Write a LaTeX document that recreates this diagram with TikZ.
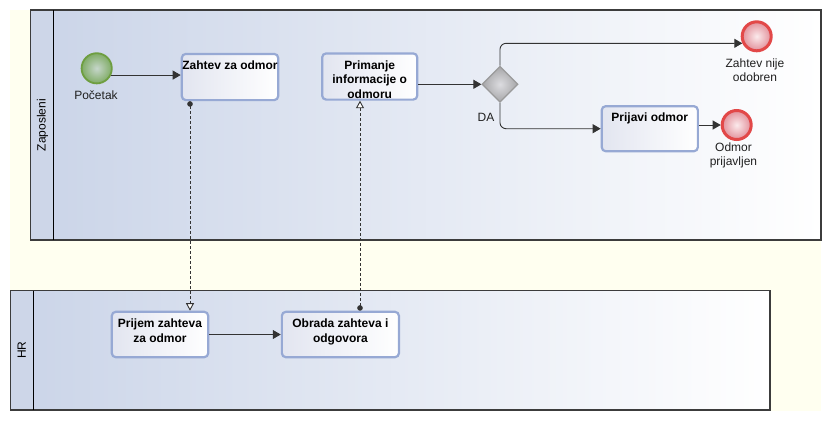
\documentclass[tikz,border=0pt]{standalone}
\usepackage{fontspec}
\setmainfont{Liberation Sans}
\usetikzlibrary{arrows.meta,shapes.geometric,calc}
\definecolor{ivory}{HTML}{FFFFF0}
\definecolor{poolline}{HTML}{3C3C3C}
\definecolor{poolL}{HTML}{CAD4E8}
\definecolor{bandcol}{HTML}{CDD6E8}
\definecolor{taskline}{HTML}{97A9D4}
\definecolor{taskL}{HTML}{E2E5F0}
\definecolor{flowcol}{HTML}{333333}
\definecolor{startline}{HTML}{6E9E40}
\definecolor{startin}{HTML}{C6D6CB}
\definecolor{startout}{HTML}{80AC66}
\definecolor{endline}{HTML}{E24848}
\definecolor{endin}{HTML}{FBEAEC}
\definecolor{endout}{HTML}{E2909A}
\definecolor{gwline}{HTML}{9A9A9A}
\definecolor{gwin}{HTML}{DCDCE0}
\definecolor{gwout}{HTML}{A6A6A8}
\definecolor{labtext}{HTML}{202020}
\begin{document}
\begin{tikzpicture}[x=1pt,y=-1pt,
  font=\fontsize{12}{14.5}\selectfont,
  pool/.style={draw=poolline, line width=1.2pt, left color=poolL, right color=white},
  band/.style={draw=poolline, line width=1.2pt, fill=bandcol},
  sep/.style={draw=black, line width=0.9pt},
  task/.style={rectangle, rounded corners=4pt, draw=taskline, line width=2.2pt,
    left color=taskL, right color=white, inner sep=0pt},
  tasktext/.style={anchor=north, yshift=-8pt, font=\fontsize{12}{14.5}\selectfont\bfseries,
    align=center, inner sep=0pt, text=black},
  startev/.style={circle, draw=startline, line width=1.8pt, inner color=startin,
    outer color=startout, minimum size=30.2pt, inner sep=0pt},
  endev/.style={circle, draw=endline, line width=3pt, inner color=endin,
    outer color=endout, minimum size=29pt, inner sep=0pt},
  gw/.style={diamond, draw=gwline, line width=1.2pt, inner color=gwin,
    outer color=gwout, minimum size=36pt, inner sep=0pt},
  evtext/.style={anchor=north, align=center, inner sep=0pt, text=labtext},
  seq/.style={draw=flowcol, line width=0.9pt, -{Triangle[length=8pt,width=9pt]}},
  msg/.style={draw=flowcol, line width=0.9pt, dash pattern=on 3pt off 2pt,
    {Circle[length=5.5pt,width=5.5pt]}-{Triangle[open,length=7.5pt,width=8pt,fill=white]}},
  lanetext/.style={rotate=90, inner sep=0pt, text=black}
]
\useasboundingbox (0,0) rectangle (831,421);
\fill[white] (0,0) rectangle (831,421);
\fill[ivory] (10,10) rectangle (821,411);

% pools
\draw[pool] (30.7,10) rectangle (821,240);
\fill[bandcol] (30.7,10) rectangle (53.3,240);
\draw[poolline, line width=1.2pt] (30.7,10) rectangle (821,240);
\draw[sep] (53.3,10) -- (53.3,240);
\node[lanetext] (lane1) at (42.5,125) {Zaposleni};

\draw[pool] (10.3,290.7) rectangle (770,410);
\fill[bandcol] (10.3,290.7) rectangle (33,410);
\draw[poolline, line width=1.2pt] (10.3,290.7) rectangle (770,410);
\draw[sep] (33,290.7) -- (33,410);
\node[lanetext] (lane2) at (21.8,350.3) {HR};

% nodes
\node[startev] (s) at (96.7,68.3) {};
\node[evtext] (slab) at (96,90.7) {Početak};

\node[task, minimum width=96.4pt, minimum height=46.2pt,
  label={[tasktext]north:Zahtev za odmor}] (t1) at (230,77) {};
\node[task, minimum width=95.1pt, minimum height=46.2pt,
  label={[tasktext]north:{Primanje\\informacije o\\odmoru}}] (t2) at (369.7,76.5) {};
\node[gw] (g) at (500,84.3) {};
\node[inner sep=0pt, text=labtext] (da) at (486,117.7) {DA};

\node[endev] (e1) at (756.7,36.3) {};
\node[evtext] (e1lab) at (755,58.4) {Zahtev nije\\odobren};

\node[task, minimum width=96.1pt, minimum height=45.1pt,
  label={[tasktext]north:Prijavi odmor}] (t3) at (649.8,128.7) {};
\node[endev] (e2) at (736.7,125) {};
\node[evtext] (e2lab) at (733.5,142.4) {Odmor\\prijavljen};

\node[task, minimum width=96.4pt, minimum height=45.4pt,
  label={[tasktext]north:{Prijem zahteva\\za odmor}}] (p1) at (160,334.5) {};
\node[task, minimum width=117.1pt, minimum height=45.4pt,
  label={[tasktext]north:{Obrada zahteva i\\odgovora}}] (p2) at (340.4,334.5) {};

\coordinate (m1) at (190,0);
\coordinate (m2) at (360,0);

% sequence flows
\draw[seq] (s.-25) -- (s.-25 -| t1.west);
\draw[seq] (g.west -| t2.east) -- (g.west);
\draw[seq, rounded corners=6pt] (g.north) |- (e1.206);
\draw[seq, rounded corners=6pt] (g.south) |- (t3.west);
\draw[seq] (t3.east |- e2.west) -- (e2.west);
\draw[seq] (p1.east) -- (p2.west);

% message flows
\draw[msg] (t1.south -| m1) -- (p1.north -| m1);
\draw[msg] (p2.north -| m2) -- (t2.south -| m2);
\end{tikzpicture}
\end{document}
